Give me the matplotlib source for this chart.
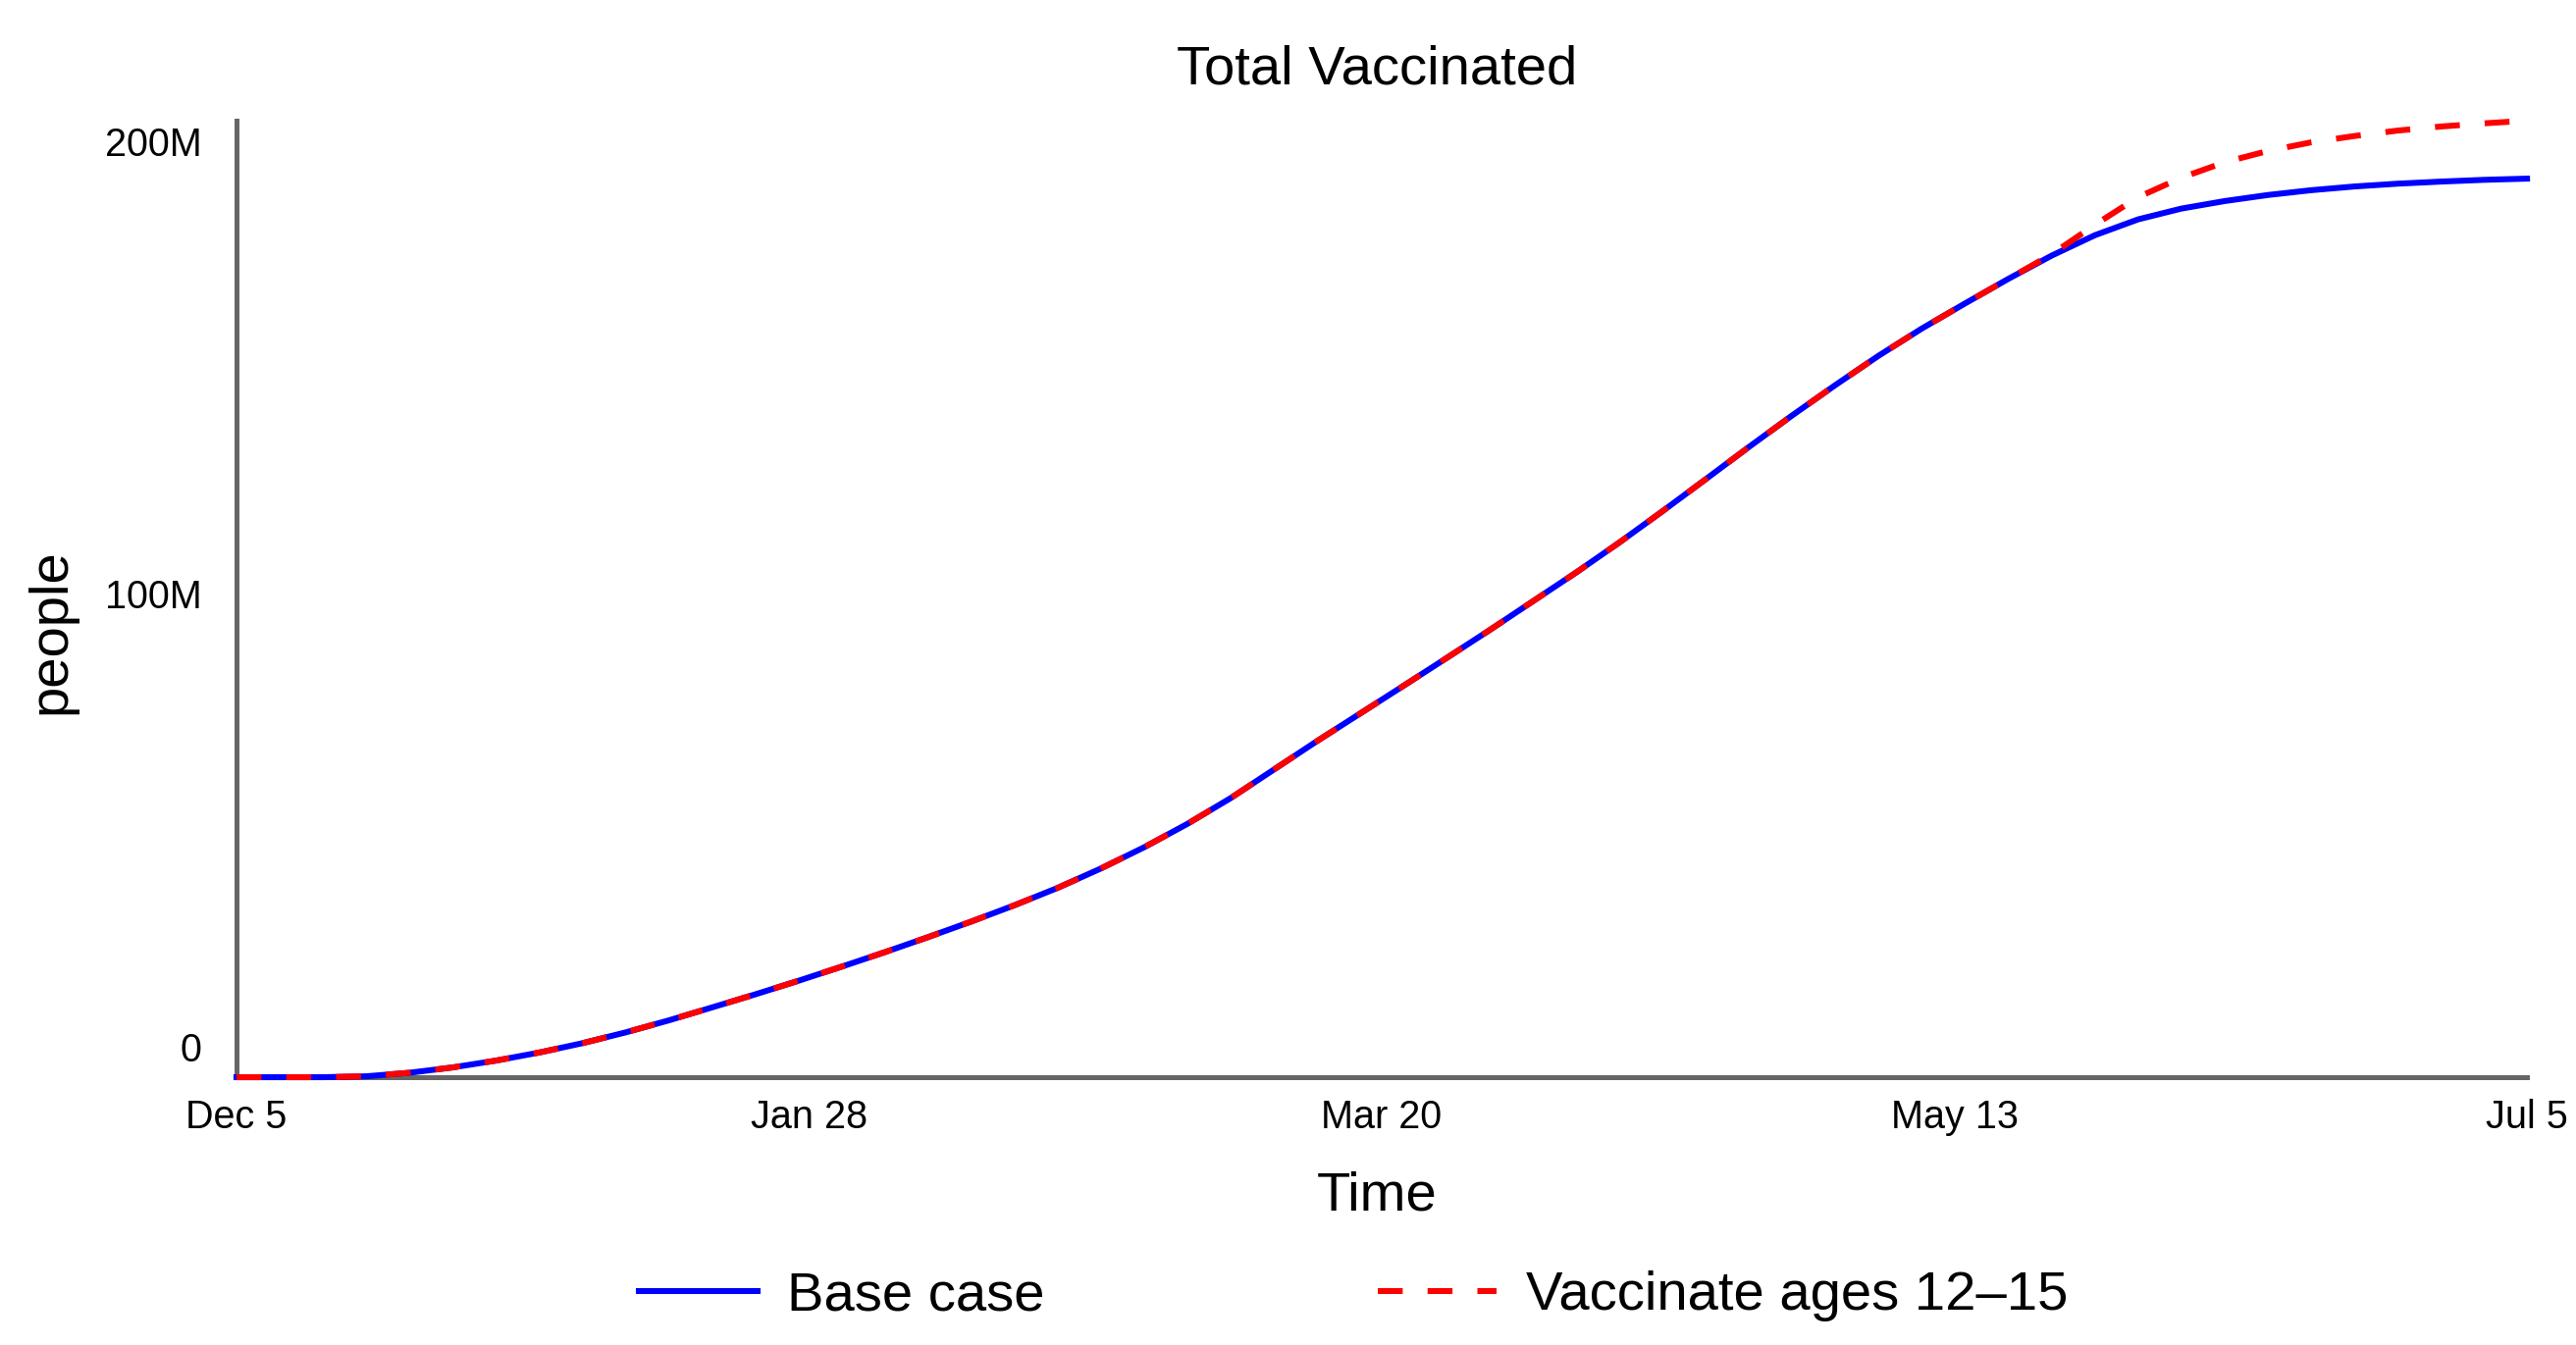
import matplotlib
matplotlib.use('Agg')
import matplotlib.pyplot as plt
import matplotlib.transforms as mtransforms
import numpy as np

plt.rcParams['font.family'] = ['Liberation Sans', 'DejaVu Sans']

# days since Dec 5, values in millions of people
days = [0, 4, 8, 12, 16, 20, 24, 28, 32, 36, 40, 44, 48, 52, 56, 60, 64, 68,
        72, 76, 80, 84, 88, 92, 96, 100, 104, 108, 112, 116, 120, 124, 128,
        132, 136, 140, 144, 148, 152, 156, 160, 164, 168, 172, 176, 180, 184,
        188, 192, 196, 200, 204, 208, 212]
base_case = [0, 0, 0, 0.2, 0.98, 2.16, 3.66, 5.44, 7.5, 9.88, 12.54, 15.4,
             18.28, 21.28, 24.4, 27.6, 30.92, 34.36, 37.96, 41.8, 46.08, 50.76,
             55.92, 61.6, 67.9, 74.2, 80.3, 86.4, 92.55, 98.75, 105.1, 111.45,
             118.08, 124.99, 132.06, 139.18, 146.14, 152.85, 159.32, 165.32,
             170.86, 176.28, 181.4, 185.9, 189.4, 191.78, 193.44, 194.78,
             195.84, 196.66, 197.28, 197.74, 198.13, 198.4]
vaccinate_12_15 = [0, 0, 0, 0.2, 0.98, 2.16, 3.66, 5.44, 7.5, 9.88, 12.54,
                   15.4, 18.28, 21.28, 24.4, 27.6, 30.92, 34.36, 37.96, 41.8,
                   46.08, 50.76, 55.92, 61.6, 67.9, 74.2, 80.3, 86.4, 92.55,
                   98.75, 105.1, 111.45, 118.08, 124.99, 132.06, 139.18,
                   146.14, 152.85, 159.32, 165.32, 170.86, 176.28, 181.7,
                   188.2, 194.3, 198.6, 202.0, 204.5, 206.4, 207.8, 209.0,
                   209.9, 210.6, 211.2]

tick_days = [0, 53, 106, 159, 212]
tick_labels = ['Dec 5', 'Jan 28', 'Mar 20', 'May 13', 'Jul 5']
y_ticks = [0, 100e6, 200e6]
y_labels = ['0', '100M', '200M']

base = np.array(base_case) * 1e6
vacc = np.array(vaccinate_12_15) * 1e6

fig = plt.figure(figsize=(17.5, 9.14), dpi=150)
ax = fig.add_axes([0.0918, 0.1991, 0.8892, 0.7112])

ax.plot(days, base, color='#0000ff', linewidth=2.9, label='Base case',
        clip_on=False, zorder=3)
ax.plot(days, vacc, color='#ff0000', linewidth=2.9, linestyle=(0, (4.2, 4.2)),
        label='Vaccinate ages 12\u201315', clip_on=False, zorder=4)

ax.set_xlim(days[0], days[-1])
ax.set_ylim(0, vacc.max())

for side in ['top', 'right']:
    ax.spines[side].set_visible(False)
for side in ['left', 'bottom']:
    ax.spines[side].set_color('#666666')
    ax.spines[side].set_linewidth(2.4)
    ax.spines[side].set_zorder(1)

ax.set_xticks(tick_days)
ax.set_xticklabels(tick_labels, fontsize=19)
ax.set_yticks(y_ticks)
ax.set_yticklabels(y_labels, fontsize=19)
ax.tick_params(axis='x', length=0, pad=10.4)
ax.tick_params(axis='y', length=0, pad=17)

# y labels sit a bit above their tick position
offset = mtransforms.ScaledTranslation(0, 31 / 150, fig.dpi_scale_trans)
for lab in ax.get_yticklabels():
    lab.set_transform(lab.get_transform() + offset)

ax.set_title('Total Vaccinated', fontsize=27)
ax.title.set_position((0.498, 1.0))
ax.title.set_transform(ax.transAxes + mtransforms.ScaledTranslation(0, 51 / 150, fig.dpi_scale_trans))
ax.title.set_va('center')

ax.set_xlabel('Time', fontsize=27, va='center')
ax.xaxis.set_label_coords(0.498, -0.125)
ax.set_ylabel('people', fontsize=27, va='center')
ax.yaxis.set_label_coords(-0.0806, 0.4656)

ax.legend(loc='center', bbox_to_anchor=(0.4876, -0.229), ncol=2, frameon=False,
          fontsize=27, handlelength=2.15, handletextpad=0.53, columnspacing=6.04)

fig.savefig('out.png', dpi=150, facecolor='white')
